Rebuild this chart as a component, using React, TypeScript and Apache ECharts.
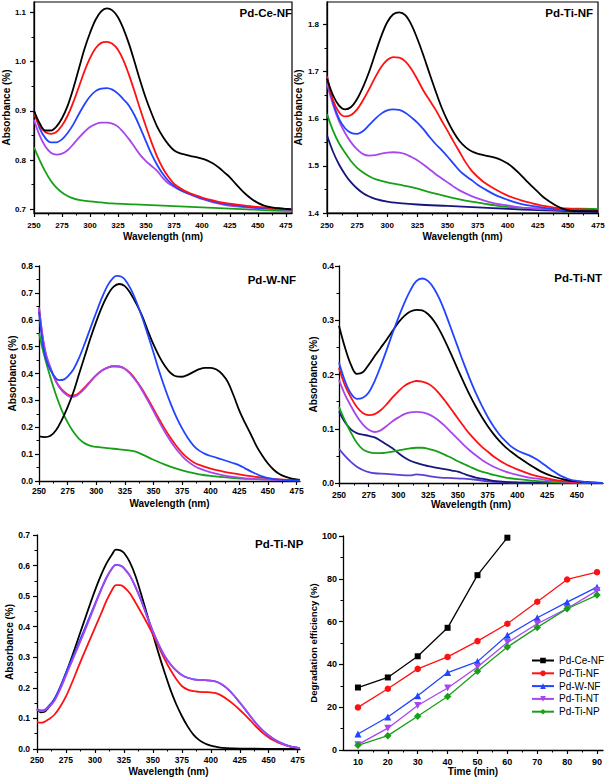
import React, { useEffect, useRef } from "react";
import * as echarts from "echarts";

const FONT = "'Liberation Sans', Arial, Helvetica, sans-serif";

// ---------- tick values ----------
const nmTicks = [250, 275, 300, 325, 350, 375, 400, 425, 450, 475];
const nmMinor = [262.5, 287.5, 312.5, 337.5, 362.5, 387.5, 412.5, 437.5, 462.5];
const ceY = [0.7, 0.8, 0.9, 1.0, 1.1];
const ceYMinor = [0.75, 0.85, 0.95, 1.05];
const tiNFY = [1.4, 1.5, 1.6, 1.7, 1.8];
const tiNFYMinor = [1.45, 1.55, 1.65, 1.75];
const wY = [0.0, 0.1, 0.2, 0.3, 0.4, 0.5, 0.6, 0.7, 0.8];
const wYMinor = [0.05, 0.15, 0.25, 0.35, 0.45, 0.55, 0.65, 0.75];
const ntY = [0.0, 0.1, 0.2, 0.3, 0.4];
const ntYMinor = [0.05, 0.15, 0.25, 0.35];
const npY = [0.0, 0.1, 0.2, 0.3, 0.4, 0.5, 0.6, 0.7];
const npYMinor = [0.05, 0.15, 0.25, 0.35, 0.45, 0.55, 0.65];
const timeTicks = [10, 20, 30, 40, 50, 60, 70, 80, 90];
const timeMinor = [15, 25, 35, 45, 55, 65, 75, 85];
const effTicks = [0, 20, 40, 60, 80, 100];
const effMinor = [10, 30, 50, 70, 90];

// ---------- Panel 1: Pd-Ce-NF ----------
const ceBlack = [[250,0.900],[255,0.875],[260,0.860],[265,0.860],[270,0.868],[275,0.885],[280,0.910],[285,0.945],[290,0.985],[295,1.025],[300,1.058],[305,1.085],[310,1.102],[315,1.108],[320,1.104],[325,1.090],[330,1.066],[335,1.035],[340,0.998],[345,0.960],[350,0.925],[355,0.895],[360,0.868],[365,0.848],[370,0.832],[375,0.820],[380,0.814],[385,0.811],[390,0.808],[395,0.806],[400,0.803],[405,0.799],[410,0.793],[415,0.785],[420,0.775],[425,0.765],[430,0.752],[435,0.740],[440,0.729],[445,0.720],[450,0.713],[455,0.708],[460,0.705],[465,0.703],[470,0.702],[475,0.701],[480,0.700]];
const ceRed = [[250,0.895],[255,0.870],[260,0.857],[265,0.853],[270,0.857],[275,0.870],[280,0.890],[285,0.917],[290,0.948],[295,0.980],[300,1.007],[305,1.027],[310,1.038],[315,1.040],[320,1.036],[325,1.024],[330,1.002],[335,0.972],[340,0.938],[345,0.902],[350,0.868],[355,0.836],[360,0.807],[365,0.784],[370,0.766],[375,0.752],[380,0.744],[385,0.737],[390,0.732],[395,0.728],[400,0.724],[410,0.718],[420,0.713],[430,0.710],[440,0.707],[450,0.705],[460,0.703],[470,0.702],[480,0.700]];
const ceBlue = [[250,0.900],[255,0.865],[260,0.845],[265,0.836],[270,0.836],[275,0.842],[280,0.855],[285,0.872],[290,0.893],[295,0.913],[300,0.929],[305,0.940],[310,0.945],[315,0.946],[320,0.943],[325,0.935],[330,0.923],[335,0.910],[340,0.890],[345,0.865],[350,0.838],[355,0.812],[360,0.790],[365,0.772],[370,0.758],[375,0.748],[380,0.740],[390,0.730],[400,0.722],[410,0.716],[420,0.711],[430,0.708],[440,0.705],[450,0.703],[460,0.702],[470,0.701],[480,0.700]];
const ceViolet = [[250,0.882],[255,0.850],[260,0.828],[265,0.815],[270,0.811],[275,0.813],[280,0.820],[285,0.832],[290,0.845],[295,0.857],[300,0.867],[305,0.873],[310,0.876],[315,0.876],[320,0.874],[325,0.868],[330,0.856],[335,0.842],[340,0.826],[345,0.810],[350,0.798],[355,0.788],[360,0.778],[365,0.764],[370,0.753],[375,0.746],[380,0.740],[390,0.730],[400,0.721],[410,0.714],[420,0.709],[430,0.706],[440,0.704],[450,0.702],[460,0.701],[470,0.700],[480,0.699]];
const ceGreen = [[250,0.826],[255,0.800],[260,0.777],[265,0.758],[270,0.744],[275,0.734],[280,0.727],[285,0.722],[290,0.719],[300,0.716],[310,0.714],[320,0.712],[340,0.710],[360,0.708],[380,0.706],[400,0.704],[420,0.702],[440,0.700],[460,0.698],[480,0.697]];

// ---------- Panel 2: Pd-Ti-NF ----------
const tiNFBlack = [[250,1.685],[255,1.650],[260,1.628],[265,1.620],[270,1.625],[275,1.642],[280,1.668],[285,1.700],[290,1.738],[295,1.775],[300,1.805],[305,1.822],[310,1.826],[315,1.820],[320,1.800],[325,1.770],[330,1.735],[335,1.697],[340,1.660],[345,1.625],[350,1.596],[355,1.572],[360,1.553],[365,1.540],[370,1.531],[375,1.526],[380,1.523],[385,1.520],[390,1.517],[395,1.512],[400,1.505],[405,1.495],[410,1.483],[415,1.470],[420,1.457],[425,1.445],[430,1.433],[435,1.424],[440,1.416],[445,1.410],[450,1.406],[455,1.404],[460,1.404],[470,1.404],[475,1.404]];
const tiNFRed = [[250,1.690],[255,1.640],[260,1.614],[265,1.605],[270,1.608],[275,1.620],[280,1.640],[285,1.663],[290,1.688],[295,1.710],[300,1.725],[305,1.731],[310,1.730],[315,1.722],[320,1.706],[325,1.684],[330,1.660],[335,1.640],[340,1.620],[345,1.597],[350,1.575],[355,1.552],[360,1.530],[365,1.508],[370,1.490],[375,1.477],[380,1.466],[390,1.450],[400,1.437],[410,1.428],[420,1.421],[430,1.415],[440,1.411],[450,1.409],[460,1.408],[475,1.406]];
const tiNFBlue = [[250,1.690],[255,1.635],[260,1.600],[265,1.580],[270,1.570],[275,1.568],[280,1.574],[285,1.587],[290,1.600],[295,1.611],[300,1.618],[305,1.620],[310,1.619],[315,1.613],[320,1.603],[325,1.592],[330,1.578],[335,1.562],[340,1.547],[345,1.534],[350,1.520],[355,1.505],[360,1.490],[365,1.479],[370,1.470],[375,1.460],[380,1.452],[390,1.438],[400,1.428],[410,1.420],[420,1.415],[440,1.408],[460,1.405],[475,1.404]];
const tiNFViolet = [[250,1.675],[255,1.630],[260,1.595],[265,1.570],[270,1.550],[275,1.535],[280,1.525],[285,1.522],[290,1.523],[295,1.526],[300,1.528],[305,1.529],[310,1.528],[315,1.525],[320,1.519],[325,1.512],[330,1.503],[335,1.493],[340,1.483],[345,1.474],[350,1.465],[355,1.456],[360,1.448],[370,1.436],[380,1.427],[390,1.420],[400,1.416],[410,1.412],[420,1.410],[440,1.407],[460,1.405],[475,1.404]];
const tiNFGreen = [[250,1.610],[255,1.575],[260,1.548],[265,1.528],[270,1.510],[275,1.496],[280,1.486],[285,1.478],[290,1.472],[300,1.465],[310,1.460],[320,1.455],[330,1.448],[340,1.441],[350,1.435],[360,1.429],[370,1.424],[380,1.420],[390,1.416],[400,1.413],[420,1.410],[440,1.409],[460,1.409],[475,1.408]];
const tiNFNavy = [[250,1.565],[255,1.530],[260,1.503],[265,1.482],[270,1.465],[275,1.452],[280,1.442],[285,1.435],[290,1.430],[300,1.424],[310,1.421],[325,1.418],[350,1.415],[375,1.412],[400,1.409],[425,1.406],[450,1.404],[475,1.402]];

// ---------- Panel 3: Pd-W-NF ----------
const wBlack = [[250,0.166],[255,0.163],[260,0.168],[265,0.190],[270,0.228],[275,0.275],[280,0.330],[285,0.398],[290,0.465],[295,0.532],[300,0.593],[305,0.648],[310,0.692],[315,0.722],[320,0.733],[325,0.725],[330,0.698],[335,0.660],[340,0.615],[345,0.560],[350,0.508],[355,0.464],[360,0.428],[365,0.402],[370,0.389],[375,0.388],[380,0.395],[385,0.406],[390,0.416],[395,0.421],[400,0.421],[405,0.415],[410,0.398],[415,0.368],[420,0.318],[425,0.262],[430,0.216],[435,0.174],[440,0.130],[445,0.095],[450,0.065],[455,0.042],[460,0.026],[465,0.016],[470,0.010],[475,0.006],[478,0.004]];
const wBlue = [[250,0.630],[253,0.520],[256,0.455],[260,0.413],[265,0.381],[268,0.375],[272,0.378],[275,0.388],[280,0.415],[285,0.458],[290,0.512],[295,0.570],[300,0.627],[305,0.682],[310,0.728],[315,0.757],[318,0.763],[322,0.760],[325,0.750],[330,0.716],[335,0.668],[340,0.610],[345,0.545],[350,0.478],[355,0.408],[360,0.345],[365,0.288],[370,0.238],[375,0.196],[380,0.160],[385,0.132],[390,0.113],[395,0.101],[400,0.093],[410,0.080],[420,0.066],[425,0.058],[430,0.047],[435,0.036],[440,0.026],[445,0.017],[450,0.011],[460,0.005],[478,0.002]];
const wRed = [[250,0.645],[253,0.540],[256,0.470],[260,0.420],[265,0.370],[270,0.340],[275,0.322],[278,0.318],[282,0.320],[285,0.328],[290,0.348],[295,0.372],[300,0.394],[305,0.411],[310,0.422],[315,0.427],[320,0.426],[325,0.418],[330,0.400],[335,0.374],[340,0.342],[345,0.306],[350,0.268],[355,0.230],[360,0.193],[365,0.160],[370,0.130],[375,0.105],[380,0.085],[385,0.070],[390,0.060],[400,0.046],[410,0.036],[420,0.028],[430,0.021],[440,0.015],[450,0.010],[460,0.006],[478,0.003]];
const wViolet = [[250,0.645],[253,0.545],[256,0.475],[260,0.422],[265,0.368],[270,0.336],[275,0.318],[278,0.313],[282,0.316],[285,0.324],[290,0.345],[295,0.370],[300,0.393],[305,0.411],[310,0.422],[315,0.427],[320,0.426],[325,0.418],[330,0.398],[335,0.371],[340,0.338],[345,0.300],[350,0.260],[355,0.220],[360,0.182],[365,0.148],[370,0.118],[375,0.093],[380,0.073],[385,0.058],[390,0.047],[400,0.032],[410,0.022],[420,0.015],[430,0.010],[440,0.007],[450,0.005],[460,0.003],[478,0.002]];
const wGreen = [[250,0.550],[255,0.460],[260,0.385],[265,0.318],[270,0.262],[275,0.218],[280,0.183],[285,0.157],[290,0.140],[295,0.131],[300,0.127],[310,0.122],[320,0.118],[330,0.113],[335,0.108],[340,0.099],[350,0.079],[360,0.061],[370,0.046],[380,0.034],[390,0.025],[400,0.019],[420,0.011],[440,0.007],[460,0.004],[478,0.003]];

// ---------- Panel 4: Pd-Ti-NT ----------
const ntBlue = [[250,0.222],[255,0.188],[260,0.165],[265,0.155],[270,0.157],[275,0.167],[280,0.188],[285,0.215],[290,0.245],[295,0.276],[300,0.305],[305,0.332],[310,0.355],[315,0.372],[320,0.377],[325,0.372],[330,0.358],[335,0.337],[340,0.310],[345,0.280],[350,0.250],[355,0.220],[360,0.192],[365,0.166],[370,0.143],[375,0.122],[380,0.104],[385,0.089],[390,0.077],[395,0.067],[400,0.060],[405,0.055],[410,0.051],[415,0.045],[420,0.038],[425,0.030],[430,0.022],[435,0.015],[440,0.010],[445,0.006],[450,0.004],[460,0.001],[472,0.000]];
const ntBlack = [[250,0.290],[255,0.250],[260,0.218],[265,0.201],[270,0.204],[275,0.218],[280,0.234],[285,0.249],[290,0.264],[295,0.280],[300,0.296],[305,0.308],[310,0.316],[315,0.319],[320,0.318],[325,0.311],[330,0.298],[335,0.280],[340,0.258],[345,0.234],[350,0.209],[355,0.185],[360,0.162],[365,0.141],[370,0.122],[375,0.105],[380,0.090],[385,0.077],[390,0.066],[395,0.057],[400,0.049],[410,0.034],[420,0.021],[430,0.012],[440,0.006],[450,0.003],[460,0.001],[472,0.000]];
const ntRed = [[250,0.212],[255,0.180],[260,0.158],[265,0.140],[270,0.129],[275,0.125],[280,0.127],[285,0.134],[290,0.145],[295,0.158],[300,0.169],[305,0.179],[310,0.185],[315,0.188],[320,0.187],[325,0.183],[330,0.175],[335,0.163],[340,0.149],[345,0.134],[350,0.119],[355,0.104],[360,0.090],[365,0.078],[370,0.067],[375,0.058],[380,0.049],[390,0.035],[400,0.025],[410,0.017],[420,0.011],[430,0.006],[440,0.003],[450,0.002],[472,0.000]];
const ntViolet = [[250,0.190],[255,0.163],[260,0.142],[265,0.123],[270,0.108],[275,0.098],[280,0.094],[285,0.097],[290,0.105],[295,0.114],[300,0.121],[305,0.127],[310,0.130],[315,0.131],[320,0.130],[325,0.127],[330,0.121],[335,0.113],[340,0.103],[345,0.092],[350,0.081],[355,0.070],[360,0.060],[365,0.051],[370,0.043],[375,0.036],[380,0.030],[390,0.021],[400,0.015],[410,0.010],[420,0.007],[430,0.004],[440,0.002],[450,0.001],[472,0.000]];
const ntGreen = [[250,0.140],[255,0.115],[260,0.093],[265,0.074],[270,0.062],[275,0.057],[280,0.055],[285,0.055],[290,0.056],[295,0.058],[300,0.060],[305,0.062],[310,0.064],[315,0.065],[320,0.065],[325,0.063],[330,0.060],[335,0.056],[340,0.051],[345,0.046],[350,0.040],[355,0.035],[360,0.030],[365,0.025],[370,0.021],[375,0.018],[380,0.015],[390,0.010],[400,0.007],[410,0.005],[420,0.003],[440,0.001],[472,0.000]];
const ntNavy = [[250,0.132],[255,0.112],[260,0.099],[265,0.092],[270,0.089],[275,0.087],[280,0.084],[285,0.078],[290,0.071],[295,0.064],[300,0.055],[305,0.047],[310,0.041],[315,0.037],[320,0.034],[325,0.031],[330,0.029],[335,0.027],[340,0.025],[345,0.023],[350,0.021],[355,0.017],[360,0.013],[365,0.010],[370,0.008],[375,0.006],[380,0.004],[390,0.002],[400,0.001],[472,0.000]];
const ntIndigo = [[250,0.063],[255,0.050],[260,0.039],[265,0.030],[270,0.024],[275,0.020],[280,0.018],[290,0.017],[300,0.015],[310,0.014],[315,0.016],[320,0.015],[325,0.013],[335,0.010],[345,0.009],[355,0.008],[365,0.006],[375,0.003],[390,0.001],[472,0.000]];

// ---------- Panel 5: Pd-Ti-NP ----------
const npBlack = [[250,0.130],[253,0.120],[256,0.121],[260,0.135],[265,0.162],[270,0.200],[275,0.248],[280,0.300],[285,0.355],[290,0.410],[295,0.465],[300,0.518],[305,0.566],[310,0.607],[315,0.638],[318,0.652],[322,0.650],[325,0.642],[330,0.612],[335,0.566],[340,0.505],[345,0.440],[350,0.375],[355,0.312],[360,0.252],[365,0.196],[370,0.148],[375,0.108],[380,0.074],[385,0.047],[390,0.029],[395,0.018],[400,0.011],[405,0.007],[410,0.004],[420,0.002],[430,0.001],[477,0.000]];
const npBlue = [[250,0.132],[253,0.126],[256,0.127],[260,0.140],[265,0.164],[270,0.203],[275,0.249],[280,0.293],[285,0.338],[290,0.382],[295,0.428],[300,0.474],[305,0.519],[310,0.561],[315,0.592],[318,0.602],[322,0.600],[325,0.592],[330,0.568],[335,0.530],[340,0.485],[345,0.434],[350,0.385],[355,0.342],[360,0.305],[365,0.278],[370,0.257],[375,0.242],[380,0.233],[385,0.228],[390,0.226],[395,0.225],[400,0.224],[405,0.220],[410,0.210],[415,0.195],[420,0.175],[425,0.152],[430,0.128],[435,0.103],[440,0.080],[445,0.060],[450,0.044],[455,0.031],[460,0.021],[465,0.013],[470,0.007],[477,0.003]];
const npViolet = [[250,0.128],[253,0.124],[256,0.125],[260,0.136],[265,0.157],[270,0.195],[275,0.240],[280,0.285],[285,0.330],[290,0.375],[295,0.422],[300,0.470],[305,0.517],[310,0.560],[315,0.592],[318,0.602],[322,0.600],[325,0.592],[330,0.568],[335,0.530],[340,0.485],[345,0.434],[350,0.385],[355,0.342],[360,0.305],[365,0.278],[370,0.257],[375,0.242],[380,0.233],[385,0.228],[390,0.226],[395,0.225],[400,0.224],[405,0.220],[410,0.210],[415,0.195],[420,0.175],[425,0.152],[430,0.128],[435,0.103],[440,0.080],[445,0.060],[450,0.044],[455,0.031],[460,0.021],[465,0.013],[470,0.007],[477,0.003]];
const npRed = [[250,0.088],[253,0.086],[256,0.088],[260,0.097],[265,0.112],[270,0.138],[275,0.172],[280,0.215],[285,0.262],[290,0.308],[295,0.352],[300,0.396],[305,0.440],[310,0.485],[315,0.522],[318,0.536],[322,0.536],[325,0.530],[330,0.510],[335,0.479],[340,0.446],[345,0.412],[350,0.375],[355,0.335],[360,0.295],[365,0.260],[370,0.230],[375,0.206],[380,0.194],[385,0.189],[390,0.187],[395,0.186],[400,0.185],[405,0.182],[410,0.173],[415,0.160],[420,0.145],[425,0.128],[430,0.110],[435,0.090],[440,0.070],[445,0.052],[450,0.038],[455,0.027],[460,0.018],[465,0.012],[470,0.007],[477,0.003]];

// ---------- Panel 6: degradation efficiency ----------
const times = [10, 20, 30, 40, 50, 60, 70, 80, 90];
const degCeNF = [29.2, 33.9, 43.8, 57.1, 81.7, 99.2];
const degTiNF = [19.9, 28.6, 37.9, 43.5, 50.9, 59.0, 69.3, 79.7, 83.1];
const degWNF = [7.5, 15.4, 25.3, 36.2, 41.3, 53.6, 61.8, 69.1, 76.1];
const degTiNT = [2.5, 10.2, 20.8, 29.0, 38.8, 50.2, 59.0, 66.1, 74.5];
const degTiNP = [2.2, 6.7, 15.8, 25.0, 36.8, 48.1, 57.3, 66.0, 72.4];
const degNames = ["Pd-Ce-NF", "Pd-Ti-NF", "Pd-W-NF", "Pd-Ti-NT", "Pd-Ti-NP"];

// ---------- colours ----------
const C = {
  black: "#000000",
  red: "#ff1111",
  blue: "#2244ff",
  violet: "#a846ee",
  green: "#17a017",
  navy: "#16167e",
  indigo: "#5b3fd6",
};

type Panel = {
  grid: { left: number; top: number; width: number; height: number };
  frame: boolean;
  x: { min: number; max: number; major: number[]; minor: number[]; margin: number; name: string; nameGap: number };
  y: { min: number; max: number; major: number[]; minor: number[]; margin: number; name: string; nameGap: number; dec: number };
  font: number;
  nameFont: number;
};

const panels: Panel[] = [
  {
    grid: { left: 31, top: 2, width: 261, height: 211 }, frame: true,
    x: { min: 250, max: 480.5, major: nmTicks, minor: nmMinor, margin: 8, name: "Wavelength (nm)", nameGap: 18 },
    y: { min: 0.6925, max: 1.121, major: ceY, minor: ceYMinor, margin: 8, name: "Absorbance (%)", nameGap: 19, dec: 1 },
    font: 8, nameFont: 10,
  },
  {
    grid: { left: 327, top: 2, width: 271, height: 211 }, frame: true,
    x: { min: 250, max: 475, major: nmTicks, minor: nmMinor, margin: 8, name: "Wavelength (nm)", nameGap: 18 },
    y: { min: 1.4, max: 1.848, major: tiNFY, minor: tiNFYMinor, margin: 8, name: "Absorbance (%)", nameGap: 18, dec: 1 },
    font: 8, nameFont: 10,
  },
  {
    grid: { left: 39, top: 266, width: 261, height: 215 }, frame: false,
    x: { min: 250, max: 478, major: nmTicks, minor: nmMinor, margin: 5, name: "Wavelength (nm)", nameGap: 17 },
    y: { min: 0, max: 0.8, major: wY, minor: wYMinor, margin: 6, name: "Absorbance (%)", nameGap: 19, dec: 1 },
    font: 8.5, nameFont: 10,
  },
  {
    grid: { left: 339, top: 266, width: 264, height: 217 }, frame: false,
    x: { min: 250, max: 472, major: nmTicks.slice(0, 9), minor: nmMinor, margin: 7, name: "Wavelength (nm)", nameGap: 16 },
    y: { min: 0, max: 0.4, major: ntY, minor: ntYMinor, margin: 5, name: "Absorbance (%)", nameGap: 19, dec: 1 },
    font: 8.5, nameFont: 10,
  },
  {
    grid: { left: 37, top: 535, width: 263, height: 214 }, frame: false,
    x: { min: 250, max: 477, major: nmTicks, minor: nmMinor, margin: 6, name: "Wavelength (nm)", nameGap: 17 },
    y: { min: 0, max: 0.7, major: npY, minor: npYMinor, margin: 7, name: "Absorbance (%)", nameGap: 20, dec: 1 },
    font: 8.5, nameFont: 10,
  },
  {
    grid: { left: 343, top: 536, width: 260, height: 214 }, frame: false,
    x: { min: 5, max: 92, major: timeTicks, minor: timeMinor, margin: 7, name: "Time (min)", nameGap: 16 },
    y: { min: 0, max: 100, major: effTicks, minor: effMinor, margin: 6, name: "Degradation efficiency (%)", nameGap: 18, dec: 0 },
    font: 9, nameFont: 10,
  },
];

const titles = [
  { text: "Pd-Ce-NF", x: 292, y: 13, align: "right" },
  { text: "Pd-Ti-NF", x: 593, y: 13, align: "right" },
  { text: "Pd-W-NF", x: 296, y: 280, align: "right" },
  { text: "Pd-Ti-NT", x: 602, y: 278, align: "right" },
  { text: "Pd-Ti-NP", x: 255, y: 544, align: "left" },
];

const spectra: { panel: number; data: number[][]; color: string }[] = [
  { panel: 0, data: ceGreen, color: C.green },
  { panel: 0, data: ceViolet, color: C.violet },
  { panel: 0, data: ceBlue, color: C.blue },
  { panel: 0, data: ceRed, color: C.red },
  { panel: 0, data: ceBlack, color: C.black },
  { panel: 1, data: tiNFNavy, color: C.navy },
  { panel: 1, data: tiNFGreen, color: C.green },
  { panel: 1, data: tiNFViolet, color: C.violet },
  { panel: 1, data: tiNFBlue, color: C.blue },
  { panel: 1, data: tiNFRed, color: C.red },
  { panel: 1, data: tiNFBlack, color: C.black },
  { panel: 2, data: wGreen, color: C.green },
  { panel: 2, data: wRed, color: C.red },
  { panel: 2, data: wViolet, color: C.violet },
  { panel: 2, data: wBlack, color: C.black },
  { panel: 2, data: wBlue, color: C.blue },
  { panel: 3, data: ntIndigo, color: C.indigo },
  { panel: 3, data: ntNavy, color: C.navy },
  { panel: 3, data: ntGreen, color: C.green },
  { panel: 3, data: ntViolet, color: C.violet },
  { panel: 3, data: ntRed, color: C.red },
  { panel: 3, data: ntBlack, color: C.black },
  { panel: 3, data: ntBlue, color: C.blue },
  { panel: 4, data: npBlack, color: C.black },
  { panel: 4, data: npRed, color: C.red },
  { panel: 4, data: npBlue, color: C.blue },
  { panel: 4, data: npViolet, color: C.violet },
];

function buildOption() {
  const grid: any[] = [];
  const xAxis: any[] = [];
  const yAxis: any[] = [];
  const axisColor = "#000";
  panels.forEach((p, i) => {
    grid.push({
      ...p.grid,
      show: p.frame,
      borderColor: "#000",
      borderWidth: 1.2,
      backgroundColor: "transparent",
      containLabel: false,
    });
    const labelStyle = {
      color: "#000",
      fontFamily: FONT,
      fontWeight: "bold",
      fontSize: p.font,
    };
    const nameStyle = {
      color: "#000",
      fontFamily: FONT,
      fontWeight: "bold",
      fontSize: i === 5 ? 9.5 : p.nameFont,
    };
    // major x
    xAxis.push({
      type: "value", gridIndex: i, min: p.x.min, max: p.x.max, position: "bottom",
      axisLine: { show: true, onZero: false, lineStyle: { color: axisColor, width: 1.3 } },
      axisTick: { show: true, inside: false, length: 4, customValues: p.x.major, lineStyle: { color: axisColor, width: 1.2 } },
      axisLabel: { show: true, customValues: p.x.major, margin: p.x.margin, ...labelStyle, formatter: (v: number) => String(v) },
      splitLine: { show: false },
      name: p.x.name, nameLocation: "middle", nameGap: p.x.nameGap,
      nameTextStyle: { ...nameStyle, fontSize: p.nameFont },
    });
    // minor x
    xAxis.push({
      type: "value", gridIndex: i, min: p.x.min, max: p.x.max, position: "bottom",
      axisLine: { show: false, onZero: false },
      axisTick: { show: true, inside: false, length: 2.5, customValues: p.x.minor, lineStyle: { color: axisColor, width: 1 } },
      axisLabel: { show: false },
      splitLine: { show: false },
    });
    yAxis.push({
      type: "value", gridIndex: i, min: p.y.min, max: p.y.max, position: "left",
      axisLine: { show: true, onZero: false, lineStyle: { color: axisColor, width: 1.3 } },
      axisTick: { show: true, inside: false, length: 4, customValues: p.y.major, lineStyle: { color: axisColor, width: 1.2 } },
      axisLabel: { show: true, customValues: p.y.major, margin: p.y.margin, ...labelStyle, formatter: (v: number) => v.toFixed(p.y.dec) },
      splitLine: { show: false },
      name: p.y.name, nameLocation: "middle", nameGap: p.y.nameGap,
      nameTextStyle: nameStyle,
    });
    yAxis.push({
      type: "value", gridIndex: i, min: p.y.min, max: p.y.max, position: "left",
      axisLine: { show: false, onZero: false },
      axisTick: { show: true, inside: false, length: 2.5, customValues: p.y.minor, lineStyle: { color: axisColor, width: 1 } },
      axisLabel: { show: false },
      splitLine: { show: false },
    });
  });

  const series: any[] = spectra.map((s) => ({
    type: "line",
    xAxisIndex: s.panel * 2,
    yAxisIndex: s.panel * 2,
    data: s.data,
    smooth: 0.35,
    symbol: "none",
    showSymbol: false,
    silent: true,
    lineStyle: { color: s.color, width: 1.8 },
    itemStyle: { color: s.color },
  }));

  const degSeries = [
    { name: degNames[0], vals: degCeNF, color: C.black, symbol: "rect", size: 6 },
    { name: degNames[1], vals: degTiNF, color: C.red, symbol: "circle", size: 6.5 },
    { name: degNames[2], vals: degWNF, color: C.blue, symbol: "triangle", size: 7 },
    { name: degNames[3], vals: degTiNT, color: C.violet, symbol: "path://M0,0L10,0L5,9Z", size: 7 },
    { name: degNames[4], vals: degTiNP, color: C.green, symbol: "diamond", size: 7.5 },
  ];
  degSeries.forEach((d) => {
    series.push({
      type: "line",
      name: d.name,
      xAxisIndex: 10,
      yAxisIndex: 10,
      data: d.vals.map((v, k) => [times[k], v]),
      symbol: d.symbol,
      symbolSize: d.size,
      showSymbol: true,
      lineStyle: { color: d.color, width: 1.3 },
      itemStyle: { color: d.color },
      clip: false,
    });
  });

  const graphic: any[] = titles.map((t) => ({
    type: "text",
    x: t.x,
    y: t.y,
    style: {
      text: t.text,
      fill: "#000",
      font: `bold 11.5px ${FONT}`,
      textAlign: t.align,
      textVerticalAlign: "middle",
    },
  }));

  return {
    animation: false,
    backgroundColor: "#ffffff",
    grid,
    xAxis,
    yAxis,
    series,
    graphic,
    legend: {
      data: degNames,
      orient: "vertical",
      left: 531,
      top: 655,
      itemWidth: 22,
      itemHeight: 7,
      itemGap: 1.8,
      padding: 0,
      textStyle: { color: "#000", fontFamily: FONT, fontSize: 10, lineHeight: 11 },
      selectedMode: false,
    },
  };
}

export default function App() {
  const ref = useRef<HTMLDivElement>(null);
  useEffect(() => {
    if (!ref.current) return;
    const chart = echarts.init(ref.current, undefined, { renderer: "svg" });
    chart.setOption(buildOption() as any);
    return () => chart.dispose();
  }, []);
  return (
    <div
      ref={ref}
      style={{ position: "absolute", left: 0, top: 0, width: 614, height: 780, background: "#fff" }}
    />
  );
}
